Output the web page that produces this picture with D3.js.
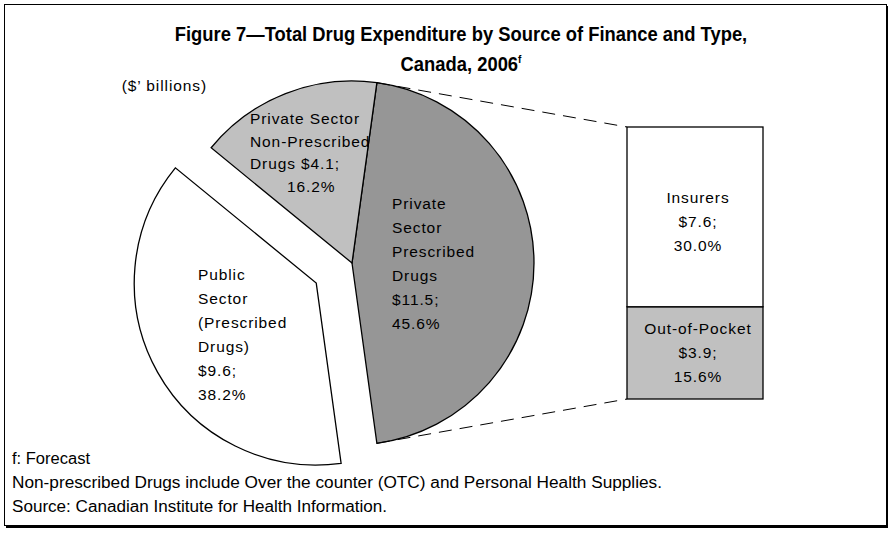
<!DOCTYPE html>
<html><head><meta charset="utf-8">
<script src="https://cdn.jsdelivr.net/npm/d3@7"></script>
<style>
html,body{margin:0;padding:0;background:#fff;}
svg text{font-family:"Liberation Sans","Arial",sans-serif;fill:#000;}
</style></head>
<body><svg id="c" width="894" height="533"></svg>
<script>
// ---- data ----
const pieCategories = ["Private Sector Prescribed Drugs", "Public Sector (Prescribed Drugs)", "Private Sector Non-Prescribed Drugs"];
const pieValues = [11.5, 9.6, 4.1];
const piePercents = [45.6, 38.2, 16.2];
const pieLabelLines = [
  ["Private", "Sector", "Prescribed", "Drugs", "$11.5;", "45.6%"],
  ["Public", "Sector", "(Prescribed", "Drugs)", "$9.6;", "38.2%"],
  ["Private Sector", "Non-Prescribed", "Drugs $4.1;", "16.2%"]
];
const barCategories = ["Out-of-Pocket", "Insurers"];
const barValues = [3.9, 7.6];
const barPercents = [15.6, 30.0];
const titleLines = ["Figure 7\u2014Total Drug Expenditure by Source of Finance and Type,", "Canada, 2006"];
const notes = ["f: Forecast",
  "Non-prescribed Drugs include Over the counter (OTC) and Personal Health Supplies.",
  "Source: Canadian Institute for Health Information."];

const svg = d3.select("#c");
// frame with shadow
svg.append("rect").attr("x",6).attr("y",6).attr("width",882).attr("height",522).attr("fill","#000");
svg.append("rect").attr("x",4.5).attr("y",4.5).attr("width",882).attr("height",521).attr("fill","#fff").attr("stroke","#000").attr("stroke-width",1);

// title (condensed bold)
const titleG1 = svg.append("g").attr("transform","translate(461,41) scale(0.92,1)");
titleG1.append("text").attr("text-anchor","middle").attr("font-size",20).attr("font-weight","bold").text(titleLines[0]);
const titleG2 = svg.append("g").attr("transform","translate(461,71) scale(0.92,1)");
const t2 = titleG2.append("text").attr("text-anchor","middle").attr("font-size",20).attr("font-weight","bold");
t2.append("tspan").text(titleLines[1]);
t2.append("tspan").attr("dy",-8).attr("font-size",11).text("f");

const labelStyle = t => t.attr("font-size",15.5).attr("letter-spacing","0.9px");
labelStyle(svg.append("text").attr("x",207).attr("y",91).attr("text-anchor","end")).text("($\u2019 billions)");

// pie
const cx = 352, cy = 263, R = 182, explode = 41;
const total = d3.sum(pieValues);
const startA = Math.PI/2 - Math.PI*pieValues[0]/total;
const pie = d3.pie().sort(null).startAngle(startA).endAngle(startA + 2*Math.PI);
const arcs = pie(pieValues);
const arc = d3.arc().innerRadius(0).outerRadius(R);
const fills = ["#969696", "#ffffff", "#c0c0c0"];
const offs = [0, explode, 0];
const g = svg.append("g").attr("transform",`translate(${cx},${cy})`);
arcs.forEach((a,i)=>{
  const mid = (a.startAngle+a.endAngle)/2;
  const dx = Math.sin(mid)*offs[i], dy = -Math.cos(mid)*offs[i];
  g.append("path").attr("d",arc(a)).attr("transform",`translate(${dx},${dy})`)
   .attr("fill",fills[i]).attr("stroke","#000").attr("stroke-width",1.3).attr("stroke-linejoin","miter");
});

// bar of pie
const barX = 627, barW = 136;
const y = d3.scaleLinear().domain([0, d3.sum(barValues)]).range([399, 127]);
let acc = 0;
const barFills = ["#c0c0c0", "#ffffff"];
const segs = barValues.map((v,i)=>{const s={v, y0:acc, y1:acc+v, i}; acc+=v; return s;});
segs.forEach(s=>{
  svg.append("rect").attr("x",barX).attr("y",y(s.y1)).attr("width",barW).attr("height",y(s.y0)-y(s.y1))
    .attr("fill",barFills[s.i]).attr("stroke","#000").attr("stroke-width",1.3);
});
// connector lines
const a0 = arcs[0];
const pTop = [cx + R*Math.sin(a0.startAngle), cy - R*Math.cos(a0.startAngle)];
const pBot = [cx + R*Math.sin(a0.endAngle), cy - R*Math.cos(a0.endAngle)];
svg.append("line").attr("x1",pTop[0]).attr("y1",pTop[1]).attr("x2",barX).attr("y2",y(d3.sum(barValues)))
  .attr("stroke","#000").attr("stroke-width",1).attr("stroke-dasharray","13,8");
svg.append("line").attr("x1",pBot[0]).attr("y1",pBot[1]).attr("x2",barX).attr("y2",y(0))
  .attr("stroke","#000").attr("stroke-width",1).attr("stroke-dasharray","13,8");

// labels
function block(lines, x, yTop, anchor, lh, xs){
  const t = labelStyle(svg.append("text").attr("text-anchor",anchor));
  lines.forEach((l,k)=>t.append("tspan").attr("x",xs ? xs[k] : x).attr("y",yTop+k*lh).text(l));
}
block(pieLabelLines[0], 392, 209, "start", 24);
block(pieLabelLines[1], 198, 280, "start", 24);
block(pieLabelLines[2], 250, 124, "start", 22.5, [250,250,250,287]);
const bc = barX + barW/2 + 3;
block([barCategories[1], "$"+barValues[1].toFixed(1)+";", barPercents[1].toFixed(1)+"%"], bc, 203, "middle", 24);
block([barCategories[0], "$"+barValues[0].toFixed(1)+";", barPercents[0].toFixed(1)+"%"], bc, 334, "middle", 24);

// notes
const noteWidths = [78, 650, 375];
notes.forEach((n,k)=>svg.append("text").attr("x",12).attr("y",464+k*24).attr("font-size",16)
  .attr("textLength",noteWidths[k]).attr("lengthAdjust","spacingAndGlyphs").text(n));
</script></body></html>
